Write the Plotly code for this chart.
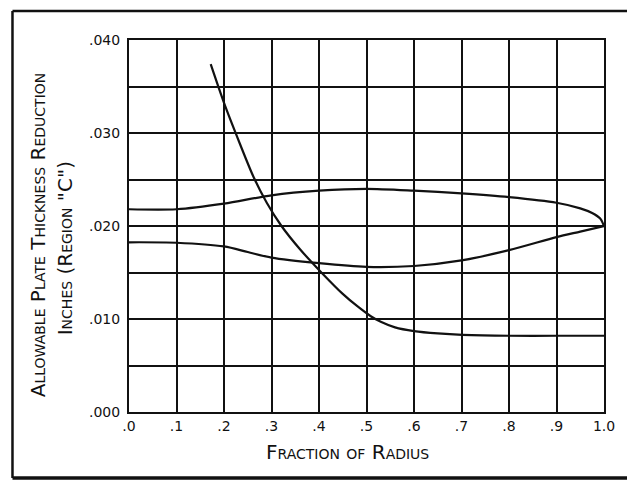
import plotly.graph_objects as go

# Data
x_upper = [0.0, 0.1, 0.2, 0.3, 0.4, 0.5, 0.6, 0.7, 0.8, 0.9, 0.95, 0.975, 0.992, 1.0]
y_upper = [0.0218, 0.0218, 0.0224, 0.0233, 0.0238, 0.0240, 0.0238, 0.0235, 0.0231, 0.0225, 0.0219, 0.0214, 0.0208, 0.0200]

x_lower = [0.0, 0.1, 0.2, 0.25, 0.3, 0.4, 0.5, 0.6, 0.7, 0.8, 0.9, 0.95, 1.0]
y_lower = [0.01825, 0.0182, 0.0178, 0.0172, 0.0166, 0.0160, 0.0156, 0.0157, 0.0163, 0.0174, 0.0188, 0.0194, 0.0200]

x_desc = [0.172, 0.201, 0.233, 0.262, 0.29, 0.321, 0.36, 0.407, 0.45, 0.48, 0.509, 0.53, 0.56, 0.6, 0.65, 0.702, 0.8, 0.9, 1.0]
y_desc = [0.0374, 0.0331, 0.0289, 0.0253, 0.0225, 0.0200, 0.0175, 0.0149, 0.0127, 0.0114, 0.0103, 0.0097, 0.0091, 0.0087, 0.00845, 0.0083, 0.0082, 0.0082, 0.0082]

x_tickvals = [0.0, 0.1, 0.2, 0.3, 0.4, 0.5, 0.6, 0.7, 0.8, 0.9, 1.0]
x_ticktext = [".0", ".1", ".2", ".3", ".4", ".5", ".6", ".7", ".8", ".9", "1.0"]
y_tickvals = [0.0, 0.01, 0.02, 0.03, 0.04]
y_ticktext = [".000", ".010", ".020", ".030", ".040"]

FONT = "DejaVu Sans"
INK = "#111111"
curve_line = dict(color=INK, width=2.2, shape="spline", smoothing=0.8)

fig = go.Figure()
fig.add_trace(go.Scatter(x=x_upper, y=y_upper, mode="lines", line=curve_line,
                         showlegend=False, hoverinfo="skip"))
fig.add_trace(go.Scatter(x=x_lower, y=y_lower, mode="lines", line=curve_line,
                         showlegend=False, hoverinfo="skip"))
fig.add_trace(go.Scatter(x=x_desc, y=y_desc, mode="lines", line=curve_line,
                         showlegend=False, hoverinfo="skip"))

tick_font = dict(family=FONT, size=14, color=INK)
fig.update_xaxes(range=[0, 1], tickvals=x_tickvals, ticktext=x_ticktext,
                 showgrid=True, gridcolor=INK, gridwidth=1.6,
                 showline=True, linecolor=INK, linewidth=2, mirror=True,
                 ticks="", zeroline=False, tickfont=tick_font)
fig.update_yaxes(range=[0, 0.04], tickvals=y_tickvals, ticktext=y_ticktext,
                 showgrid=True, gridcolor=INK, gridwidth=1.6,
                 minor=dict(dtick=0.005, showgrid=True, gridcolor=INK, gridwidth=1.6, ticks=""),
                 showline=True, linecolor=INK, linewidth=2, mirror=True,
                 ticks="", zeroline=False, ticklabelstandoff=4, tickfont=tick_font)

title_font = dict(family=FONT, size=20, color=INK, variant="small-caps")
fig.add_annotation(text="Allowable Plate Thickness Reduction", textangle=-90,
                   xref="paper", yref="paper", x=-0.191, y=0.476,
                   showarrow=False, font=title_font, xanchor="center", yanchor="middle")
fig.add_annotation(text="Inches (Region \"C\")", textangle=-90,
                   xref="paper", yref="paper", x=-0.134, y=0.441,
                   showarrow=False, font=title_font, xanchor="center", yanchor="middle")
fig.add_annotation(text="Fraction of Radius",
                   xref="paper", yref="paper", x=0.459, y=-0.1075,
                   showarrow=False, font=title_font, xanchor="center", yanchor="middle")

# outer frame (left, top, bottom)
fig.add_shape(type="line", xref="paper", yref="paper", x0=-0.2453, x1=-0.2453, y0=-0.1774, y1=1.078,
              line=dict(color=INK, width=2.5))
fig.add_shape(type="line", xref="paper", yref="paper", x0=-0.2453, x1=1.1, y0=1.078, y1=1.078,
              line=dict(color=INK, width=2.5))
fig.add_shape(type="line", xref="paper", yref="paper", x0=-0.2453, x1=1.1, y0=-0.1774, y1=-0.1774,
              line=dict(color=INK, width=3.5))

fig.update_layout(width=627, height=481,
                  margin=dict(l=129, r=21, t=40, b=69),
                  paper_bgcolor="white", plot_bgcolor="white",
                  font=dict(family=FONT, color=INK))

fig.write_html("out.html", config={"displayModeBar": False},
               post_script="document.body.style.margin='0';document.body.style.overflow='hidden';")
